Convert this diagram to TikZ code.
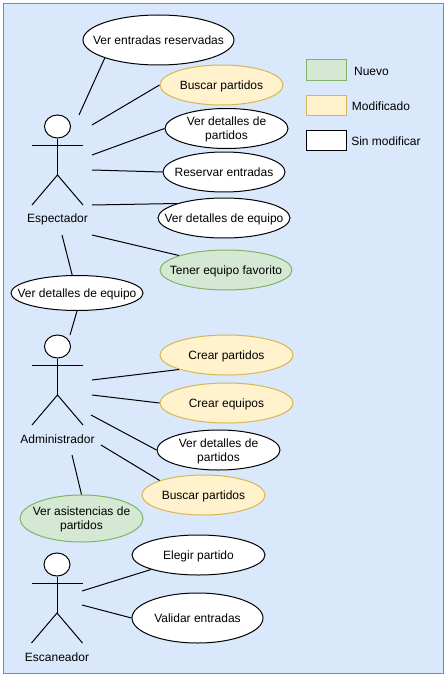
\documentclass[tikz,border=0pt]{standalone}
\usepackage{fontspec}
\setmainfont{Liberation Sans}
\usetikzlibrary{shapes.geometric}

\definecolor{fondo}{HTML}{DAE8FC}
\definecolor{fondoborde}{HTML}{6C8EBF}
\definecolor{nuevo}{HTML}{D5E8D4}
\definecolor{nuevoborde}{HTML}{82B366}
\definecolor{modif}{HTML}{FFF2CC}
\definecolor{modifborde}{HTML}{D6B656}

\tikzset{
	usecase/.style={draw, ellipse, fill=white, inner sep=-20pt, align=center, font=\fontsize{12}{14}\selectfont, text depth=0.5pt},
	casonuevo/.style={usecase, draw=nuevoborde, fill=nuevo},
	casomodif/.style={usecase, draw=modifborde, fill=modif},
	caja/.style={draw, rectangle, minimum width=40pt, minimum height=20pt, inner sep=0pt},
	rotulo/.style={inner sep=0pt, font=\fontsize{12}{14}\selectfont}
}

\begin{document}
\begin{tikzpicture}[x=1pt, y=-1pt, line width=1pt]
	\useasboundingbox (0,0) rectangle (447,677);

	%% The background
	\node at (223.5,338.5) [draw=fondoborde, fill=fondo, rectangle, minimum width=440pt, minimum height=670pt, inner sep=0pt] (fondo) {};

	%% The legend
	\node at (326,70) [caja, draw=nuevoborde, fill=nuevo] (caja-nuevo) {};
	\node at (326,105) [caja, draw=modifborde, fill=modif] (caja-modif) {};
	\node at (326,140) [caja, fill=white] (caja-sin) {};
	\node at (371.5,71) [rotulo] (txt-nuevo) {Nuevo};
	\node at (381,106) [rotulo] (txt-modif) {Modificado};
	\node at (386,141) [rotulo] (txt-sin) {Sin modificar};

	%% The actors: name, label, x of the body, y of the head
	\foreach \nm/\lbl/\xa/\ya/\ly in {esp/Espectador/57.5/126.5/219.5, adm/Administrador/57.5/346.5/439.5, esc/Escaneador/57/564.5/657.5}{%
		\node at (\xa,\ya) [draw, ellipse, fill=white, minimum width=26pt, minimum height=23pt, inner sep=0pt] (\nm-cabeza) {};
		\coordinate (\nm-hombro) at (\xa,\ya+18.5);
		\coordinate (\nm-cadera) at (\xa,\ya+48.5);
		\draw (\nm-cabeza.south) -- (\nm-cadera);
		\draw (\nm-hombro) ++(-25.5,0) -- ++(51,0);
		\draw (\nm-cadera) ++(-25.5,30) -- (\nm-cadera) -- ++(25.5,30);
		\node at (\xa,\ly) [rotulo] (\nm) {\lbl};
	}

	%% The use cases of Espectador
	\node at (158.5,40) [usecase, minimum width=151pt, minimum height=50pt] (ver-reservadas) {Ver entradas reservadas};
	\node at (221.5,85) [casomodif, minimum width=123pt, minimum height=40pt] (buscar-esp) {Buscar partidos};
	\node at (226.5,128.5) [usecase, minimum width=123pt, minimum height=40pt] (detalles-esp) {Ver detalles de\\partidos};
	\node at (224,172) [usecase, minimum width=122pt, minimum height=40pt] (reservar) {Reservar entradas};
	\node at (224,218) [usecase, minimum width=132pt, minimum height=40pt] (equipo-esp) {Ver detalles de equipo};
	\node at (226,270) [casonuevo, minimum width=132pt, minimum height=40pt] (favorito) {Tener equipo favorito};

	%% Shared by Espectador and Administrador
	\node at (77,293) [usecase, minimum width=132pt, minimum height=35pt] (equipo-comun) {Ver detalles de equipo};

	%% The use cases of Administrador
	\node at (226.5,355) [casomodif, minimum width=133pt, minimum height=40pt] (crear-partidos) {Crear partidos};
	\node at (226.5,403) [casomodif, minimum width=133pt, minimum height=40pt] (crear-equipos) {Crear equipos};
	\node at (218.5,450) [usecase, minimum width=123pt, minimum height=40pt] (detalles-adm) {Ver detalles de\\partidos};
	\node at (203.5,495) [casomodif, minimum width=123pt, minimum height=40pt] (buscar-adm) {Buscar partidos};
	\node at (81.5,518.5) [casonuevo, minimum width=123pt, minimum height=47pt] (asistencias) {Ver asistencias de\\partidos};

	%% The use cases of Escaneador
	\node at (198.5,555) [usecase, minimum width=133pt, minimum height=40pt] (elegir) {Elegir partido};
	\node at (197.5,618) [usecase, minimum width=131pt, minimum height=50pt] (validar) {Validar entradas};

	%% The connectors, with the free end at the actor
	\foreach \u/\x/\y/\b in {ver-reservadas/79/115/south west, buscar-esp/92/125/west, detalles-esp/92/155/west, reservar/92/170/west, equipo-esp/92/205/north west, favorito/92/235/north west, crear-partidos/92/380/south west, crear-equipos/92/395/west, detalles-adm/91/415/west, buscar-adm/101/445/north west, asistencias/72/455/north, elegir/82/591/south west, validar/82/605/west}{%
		\coordinate (\u-fin) at (\x,\y);
		\draw (\u-fin) -- (\u.\b);
	}
	\coordinate (comun-esp) at (62,235);
	\coordinate (comun-adm) at (70,335);
	\draw (comun-esp) -- (equipo-comun.105);
	\draw (comun-adm) -- (equipo-comun.south);

\end{tikzpicture}
\end{document}
